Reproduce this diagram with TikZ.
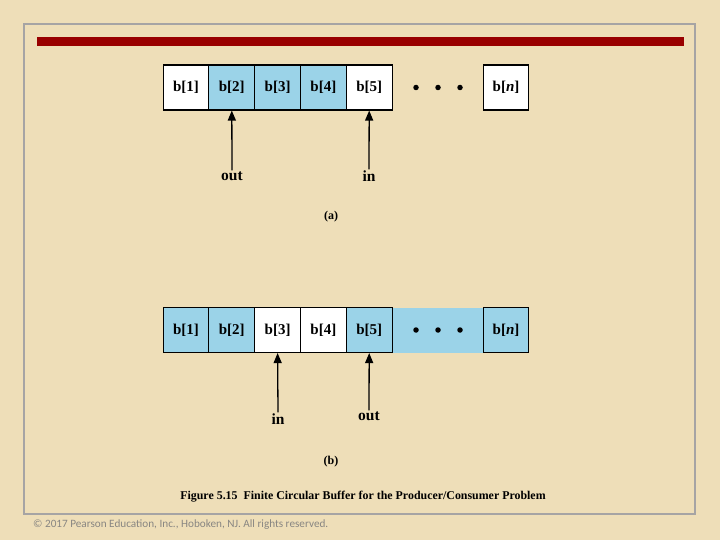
\documentclass[tikz,border=0pt]{standalone}
\usepackage{fontspec}
\setmainfont{Liberation Serif}
\newfontfamily\cfont{Carlito}
\usetikzlibrary{arrows.meta}
\definecolor{parch}{RGB}{238,222,184}
\definecolor{cellblue}{RGB}{155,211,232}
\definecolor{barred}{RGB}{153,0,0}
\definecolor{framegray}{RGB}{166,164,164}
\definecolor{copygray}{RGB}{136,134,130}
\tikzset{
  cell/.style={draw=black, line width=1.1pt, minimum width=45.8pt, minimum height=45pt, inner sep=0pt, font=\fontsize{15}{15}\selectfont\bfseries},
  wcell/.style={cell, fill=white},
  bcell/.style={cell, fill=cellblue},
  lbl/.style={inner sep=1pt, font=\fontsize{15.5}{15.5}\selectfont\bfseries},
  sub/.style={inner sep=0pt, font=\fontsize{12}{12}\selectfont\bfseries},
  dotm/.style={circle, fill=black, inner sep=0pt, minimum size=5.5pt},
  arr/.style={line width=1.3pt, -{Triangle[length=10pt,width=8pt]}}
}
\begin{document}
\begin{tikzpicture}[x=1pt,y=-1pt]
\useasboundingbox (0,0) rectangle (720,540);
\fill[parch] (0,0) rectangle (720,540);
\draw[framegray, line width=2pt] (24,24) rectangle (695,514);
\fill[barred] (37,37) rectangle (684,46);
% (a)
\node[wcell] (a1) at (186,87.5) {b[1]};
\node[bcell] (a2) at (231.8,87.5) {b[2]};
\node[bcell] (a3) at (277.6,87.5) {b[3]};
\node[bcell] (a4) at (323.4,87.5) {b[4]};
\node[wcell] (a5) at (369.2,87.5) {b[5]};
\node[dotm] (ad1) at (416,87.5) {};
\node[dotm] (ad2) at (438,87.5) {};
\node[dotm] (ad3) at (460,87.5) {};
\node[wcell] (an) at (506,87.5) {b[\textit{n}]};
\node[lbl] (aout) at (232,176) {out};
\node[lbl] (ain) at (369,176) {in};
\draw[arr] (aout.north) -- (a2.south);
\draw[arr] (ain.north) -- (a5.south);
\node[sub] (acap) at (331,217) {(a)};
% (b)
\fill[cellblue] (392,307.5) rectangle (483,352.5);
\node[bcell] (b1) at (186,330) {b[1]};
\node[bcell] (b2) at (231.8,330) {b[2]};
\node[wcell] (b3) at (277.6,330) {b[3]};
\node[wcell] (b4) at (323.4,330) {b[4]};
\node[bcell] (b5) at (369.2,330) {b[5]};
\node[dotm] (bd1) at (416,330) {};
\node[dotm] (bd2) at (438,330) {};
\node[dotm] (bd3) at (460,330) {};
\node[bcell] (bn) at (506,330) {b[\textit{n}]};
\node[lbl] (bin) at (278,419) {in};
\node[lbl] (bout) at (369,416) {out};
\draw[arr] (bin.north) -- (b3.south);
\draw[arr] (bout.north) -- (b5.south);
\node[sub] (bcap) at (331,462) {(b)};
\node[inner sep=0pt, font=\fontsize{11.9}{11.9}\selectfont\bfseries] (fig) at (363,497) {Figure 5.15\enspace Finite Circular Buffer for the Producer/Consumer Problem};
\node[anchor=west, inner sep=0pt, text=copygray, font=\cfont\fontsize{11.2}{11.2}\selectfont] (copy) at (33,525) {© 2017 Pearson Education, Inc., Hoboken, NJ. All rights reserved.};
\end{tikzpicture}
\end{document}
